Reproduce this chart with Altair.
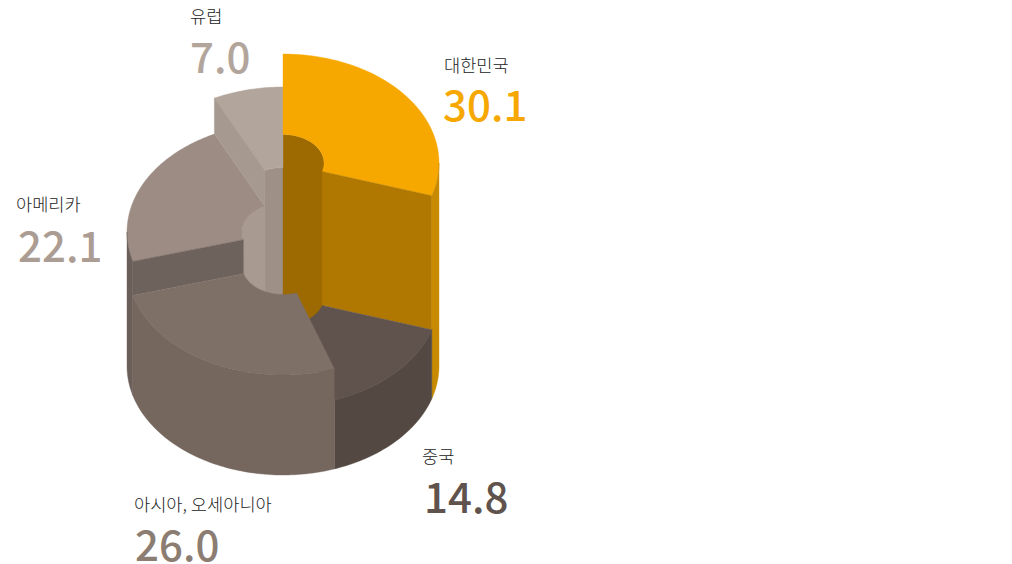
import math
import altair as alt
import pandas as pd

names = ["대한민국", "중국", "아시아, 오세아니아", "아메리카", "유럽"]
values = [30.1, 14.8, 26.0, 22.1, 7.0]
values_txt = ["30.1", "14.8", "26.0", "22.1", "7.0"]
heights = [203, 69, 100, 134, 170]

top_colors = ["#F7A800", "#60534D", "#7E6F67", "#9C8C83", "#B2A59B"]
outer_colors = ["#C88A00", "#534842", "#75665E", "#6B5F59", "#B2A59B"]
radial_colors = ["#B07800", None, None, "#6E625C", "#A69A90"]
inner_colors = ["#9C6A00", None, None, "#A89A90", "#9E9087"]
number_colors = ["#F7A800", "#60534D", "#8C7D73", "#AB9D94", "#B2A59B"]

name_x = [444, 422, 134, 16, 190]
name_y = [72, 463, 511, 211, 23]
num_x = [443, 424, 135, 18, 190]
num_y = [121, 513, 561, 262, 73]

CX, BASE = 283, 366
RX, RY, IX, IY = 156, 109, 41, 28.5
W, H = 996, 556
SHIFT = math.radians(0.9)

total = sum(values)
starts, ends, acc = [], [], 0.0
for v in values:
    starts.append(acc)
    acc += v
    ends.append(acc)


def ang(share):
    a = share / total * 2 * math.pi
    return a - SHIFT if 0 < share < total else a


def pt(a, rx, ry, h):
    return (CX + rx * math.sin(a), BASE - h - ry * math.cos(a))


def arc(a0, a1, rx, ry, h):
    n = max(2, int(abs(a1 - a0) / 0.02))
    return [pt(a0 + (a1 - a0) * k / n, rx, ry, h) for k in range(n + 1)]


x_scale = alt.Scale(domain=[8, 8 + W], range=[0, W], nice=False, zero=False)
y_scale = alt.Scale(domain=[8, 8 + H], range=[0, H], nice=False, zero=False)


def poly(points, color):
    df = pd.DataFrame(points, columns=["x", "y"])
    df["i"] = range(len(df))
    return (
        alt.Chart(df)
        .mark_line(interpolate="linear-closed", fill=color, stroke=color, strokeWidth=0.4, clip=False)
        .encode(
            x=alt.X("x:Q", scale=x_scale, axis=None),
            y=alt.Y("y:Q", scale=y_scale, axis=None),
            order="i:Q",
        )
    )


def wall_arc(a0, a1, rx, ry, h_top, h_bot):
    return arc(a0, a1, rx, ry, h_top) + arc(a1, a0, rx, ry, h_bot)


def radial_wall(a, h_top, h_bot):
    return [pt(a, IX, IY, h_top), pt(a, RX, RY, h_top), pt(a, RX, RY, h_bot), pt(a, IX, IY, h_bot)]


def top_face(i):
    a0, a1 = ang(starts[i]), ang(ends[i])
    return arc(a0, a1, RX, RY, heights[i]) + arc(a1, a0, IX, IY, heights[i])


YEL, CHN, ASI, AME, EUR = 0, 1, 2, 3, 4
layers = []
# hole walls, back of the ring
layers.append(poly(wall_arc(ang(starts[EUR]), 2 * math.pi, IX, IY, heights[EUR], 0), inner_colors[EUR]))
layers.append(poly(wall_arc(ang(starts[AME]), ang(ends[AME]), IX, IY, heights[AME], 0), inner_colors[AME]))
layers.append(poly(wall_arc(0, math.pi / 2, IX, IY, heights[YEL], 0), inner_colors[YEL]))
# tall tops and the radial walls that stand on lower neighbours
layers.append(poly(top_face(AME), top_colors[AME]))
layers.append(poly(radial_wall(ang(starts[AME]), heights[AME], heights[ASI]), radial_colors[AME]))
layers.append(poly(top_face(EUR), top_colors[EUR]))
layers.append(poly(radial_wall(ang(starts[EUR]), heights[EUR], heights[AME]), radial_colors[EUR]))
layers.append(poly(top_face(YEL), top_colors[YEL]))
layers.append(poly(radial_wall(ang(ends[YEL]), heights[YEL], heights[CHN]), radial_colors[YEL]))
# outer walls
layers.append(poly(wall_arc(math.pi / 2, ang(ends[YEL]), RX, RY, heights[YEL], 0), outer_colors[YEL]))
layers.append(poly(wall_arc(ang(starts[AME]), 1.5 * math.pi, RX, RY, heights[AME], 0), outer_colors[AME]))
layers.append(poly(top_face(CHN), top_colors[CHN]))
layers.append(poly(wall_arc(ang(starts[CHN]), ang(ends[CHN]), RX, RY, heights[CHN], 0), outer_colors[CHN]))
layers.append(poly(top_face(ASI), top_colors[ASI]))
layers.append(poly(wall_arc(ang(starts[ASI]), ang(ends[ASI]), RX, RY, heights[ASI], 0), outer_colors[ASI]))

FONT = "Noto Sans CJK KR"
for i in range(5):
    layers.append(
        alt.Chart(pd.DataFrame({"x": [name_x[i]], "y": [name_y[i]], "t": [names[i]]}))
        .mark_text(font=FONT, fontSize=17.6, fontWeight=300, align="left", baseline="alphabetic", color="#222222", clip=False)
        .encode(x=alt.X("x:Q", scale=x_scale, axis=None), y=alt.Y("y:Q", scale=y_scale, axis=None), text="t:N")
    )
    layers.append(
        alt.Chart(pd.DataFrame({"x": [num_x[i]], "y": [num_y[i]], "t": [values_txt[i]]}))
        .mark_text(font=FONT, fontSize=42, fontWeight=500, align="left", baseline="alphabetic", color=number_colors[i], clip=False)
        .encode(x=alt.X("x:Q", scale=x_scale, axis=None), y=alt.Y("y:Q", scale=y_scale, axis=None), text="t:N")
    )

chart = (
    alt.layer(*layers)
    .properties(width=W, height=H, padding=0, autosize=alt.AutoSizeParams(type="none"), background="#FFFFFF")
    .configure_view(stroke=None)
)
chart.save("out.html", embed_options={"renderer": "svg", "actions": False})
